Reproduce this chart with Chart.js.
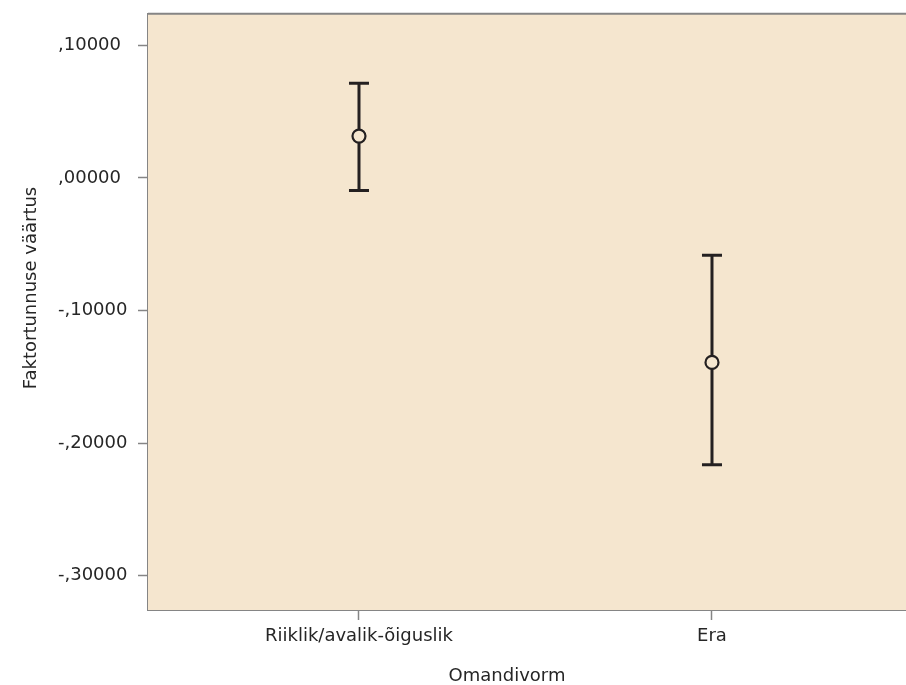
<!DOCTYPE html>
<html>
<head>
<meta charset="utf-8">
<script src="https://cdn.jsdelivr.net/npm/chart.js@4/dist/chart.umd.min.js"></script>
<style>
  html, body { margin: 0; padding: 0; background: #fff; overflow: hidden; }
  #wrap { width: 906px; height: 685px; position: relative; }
  #myChart { display: block; }
</style>
</head>
<body>
<div id="wrap"><canvas id="myChart"></canvas></div>
<script>
'use strict';

// Data

let categories = ['Riiklik/avalik-õiguslik', 'Era'];
let means = [0.0316, -0.1391];
let upper = [0.0714, -0.0583];
let lower = [-0.0095, -0.2162];
let yTicks = [0.1, 0, -0.1, -0.2, -0.3];

let xTitle = 'Omandivorm';
let yTitle = 'Faktortunnuse väärtus';

let plotBg = 'rgb(245, 230, 207)';
let barColor = '#242021';
let frameColor = '#858585';
let textColor = '#262626';
let font = { family: 'DejaVu Sans', size: 18 };

// Tick label like ",10000" / "-,10000"

function formatTick(v) {
  if (Math.abs(v) < 1e-9) v = 0;
  let s = v.toFixed(5);
  return s.replace('0.', ',');
}

// Build datasets

let datasets = [];

for (let i = 0; i < categories.length; i++) {
  datasets.push({
    data: [{ x: i + 1, y: lower[i] }, { x: i + 1, y: upper[i] }],
    showLine: true,
    borderColor: barColor,
    borderWidth: 3,
    pointStyle: 'line',
    pointRadius: 10,
    pointBorderWidth: 3,
    pointBorderColor: barColor,
    order: 2
  });
}

datasets.push({
  data: means.map((m, i) => ({ x: i + 1, y: m })),
  showLine: false,
  pointStyle: 'circle',
  pointRadius: 6.5,
  pointBorderWidth: 2.2,
  pointBorderColor: barColor,
  pointBackgroundColor: plotBg,
  order: 1
});

// Plugins: background, frame, axis titles

let framePlugin = {
  id: 'frame',
  beforeDatasetsDraw(chart) {
    let { ctx, chartArea } = chart;
    ctx.save();
    ctx.fillStyle = plotBg;
    ctx.fillRect(chartArea.left, chartArea.top, chartArea.right - chartArea.left, chartArea.bottom - chartArea.top);
    ctx.strokeStyle = frameColor;
    ctx.lineWidth = 2;
    ctx.beginPath();
    ctx.moveTo(chartArea.left, chartArea.top);
    ctx.lineTo(chartArea.right, chartArea.top);
    ctx.stroke();
    ctx.restore();
  },
  afterDraw(chart) {
    let ctx = chart.ctx;
    ctx.save();
    ctx.fillStyle = textColor;
    ctx.font = font.size + 'px ' + font.family;
    ctx.textAlign = 'center';
    ctx.textBaseline = 'middle';
    ctx.fillText(xTitle, 507, 676);
    ctx.translate(31, 288);
    ctx.rotate(-Math.PI / 2);
    ctx.fillText(yTitle, 0, 0);
    ctx.restore();
  }
};

const ctx = document.getElementById('myChart').getContext('2d');
const myChart = new Chart(ctx, {
  type: 'scatter',
  data: { datasets: datasets },
  options: {
    responsive: true,
    maintainAspectRatio: false,
    animation: false,
    layout: { autoPadding: false, padding: { left: 58, top: 12, right: 0, bottom: 0 } },
    plugins: {
      legend: { display: false },
      tooltip: { enabled: false }
    },
    scales: {
      x: {
        type: 'linear',
        min: 0.4023,
        max: 2.5496,
        afterBuildTicks: (scale) => {
          scale.ticks = categories.map((c, i) => ({ value: i + 1 }));
        },
        afterFit: (scale) => { scale.height = 75; },
        ticks: {
          callback: (v) => categories[v - 1],
          color: textColor,
          font: font,
          padding: 6,
          maxRotation: 0,
          autoSkip: false
        },
        grid: { drawOnChartArea: false, tickLength: 10, tickColor: frameColor, tickWidth: 1.5 },
        border: { display: true, color: frameColor, width: 2 }
      },
      y: {
        min: -0.3258,
        max: 0.1238,
        afterBuildTicks: (scale) => {
          scale.ticks = yTicks.map((v) => ({ value: v }));
        },
        afterFit: (scale) => { scale.width = 90; },
        ticks: {
          callback: (v) => formatTick(v),
          color: textColor,
          font: font,
          crossAlign: 'far'
        },
        grid: { drawOnChartArea: false, tickLength: 10, tickColor: frameColor, tickWidth: 1.5 },
        border: { display: true, color: frameColor, width: 2 }
      }
    }
  },
  plugins: [framePlugin]
});
</script>
</body>
</html>
